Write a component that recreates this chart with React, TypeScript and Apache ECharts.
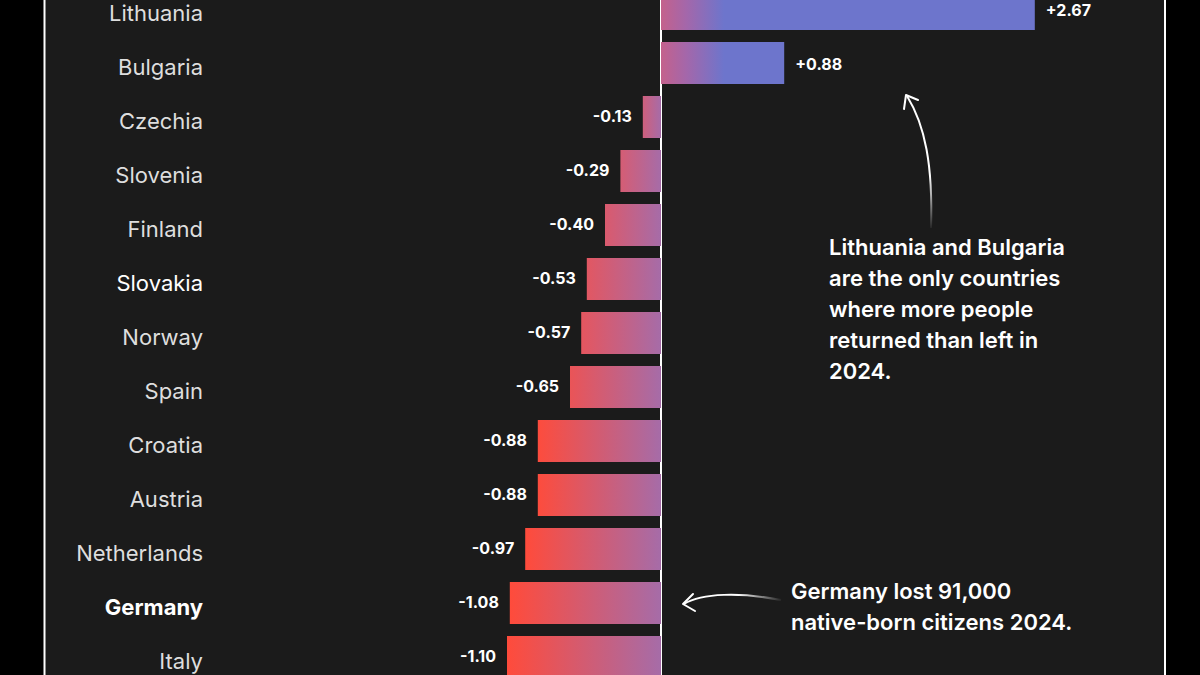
import React, { useEffect, useRef } from "react";
import * as echarts from "echarts";

const countries = [
  "Lithuania", "Bulgaria", "Czechia", "Slovenia", "Finland", "Slovakia", "Norway",
  "Spain", "Croatia", "Austria", "Netherlands", "Germany", "Italy",
];
const values = [2.67, 0.88, -0.13, -0.29, -0.4, -0.53, -0.57, -0.65, -0.88, -0.88, -0.97, -1.08, -1.1];
const boldCountries = ["Germany"];
const semiBoldCountries = ["Slovakia"];
const note1 = [
  "Lithuania and Bulgaria",
  "are the only countries",
  "where more people",
  "returned than left in",
  "2024.",
];
const note2 = ["Germany lost 91,000", "native-born citizens 2024."];

const FONT = "Inter, 'Noto Sans', sans-serif";

function hex(c: string) {
  return [parseInt(c.slice(1, 3), 16), parseInt(c.slice(3, 5), 16), parseInt(c.slice(5, 7), 16)];
}
function mix(a: string, b: string, t: number) {
  const A = hex(a), B = hex(b);
  const r = A.map((v, i) => Math.round(v + (B[i] - v) * t));
  return `rgb(${r[0]},${r[1]},${r[2]})`;
}

function barColor(v: number) {
  if (v >= 0) {
    const o = Math.min(1, 0.45 / v);
    return {
      type: "linear", x: 0, y: 0, x2: 1, y2: 0,
      colorStops: [
        { offset: 0, color: "#c4618c" },
        { offset: o * 0.4, color: "#a467aa" },
        { offset: o, color: "#6d75cc" },
        { offset: 1, color: "#6d75cc" },
      ],
    };
  }
  const t = Math.pow(Math.min(1, Math.max(0, (Math.abs(v) - 0.1) / 0.8)), 1.5);
  return {
    type: "linear", x: 0, y: 0, x2: 1, y2: 0,
    colorStops: [
      { offset: 0, color: mix("#cf5f7c", "#ff4b3b", t) },
      { offset: 1, color: "#a66ca8" },
    ],
  };
}

export default function App() {
  const ref = useRef<HTMLDivElement>(null);
  useEffect(() => {
    const chart = echarts.init(ref.current!, null, { renderer: "svg" });
    const option: any = {
      animation: false,
      backgroundColor: "#000000",
      grid: { left: 213, right: 91, top: -18, height: 702, outerBoundsMode: "none", containLabel: false },
      xAxis: {
        type: "value", min: -3.2, max: 3.2, show: false,
        splitLine: { show: false },
      },
      yAxis: {
        type: "category", inverse: true, data: countries,
        axisTick: { show: false },
        axisLine: { show: true, onZero: true, lineStyle: { color: "#ffffff", width: 2 } },
        axisLabel: {
          margin: 10,
          padding: [8, 0, 0, 0],
          formatter: (v: string) =>
            boldCountries.includes(v) ? `{b|${v}}` : semiBoldCountries.includes(v) ? `{s|${v}}` : `{n|${v}}`,
          rich: {
            n: { fontFamily: FONT, fontSize: 22, color: "#dedede", fontWeight: 400 },
            s: { fontFamily: FONT, fontSize: 22, color: "#ffffff", fontWeight: 400 },
            b: { fontFamily: FONT, fontSize: 22, color: "#ffffff", fontWeight: 700 },
          },
        },
      },
      series: [
        {
          type: "bar",
          barWidth: 42,
          z: 1,
          data: values.map((v) => ({
            value: v,
            itemStyle: { color: barColor(v) },
            label: {
              show: true,
              position: v >= 0 ? "right" : "left",
              distance: 11,
              offset: [0, v >= 0 ? 1 : -1],
              formatter: (v >= 0 ? "+" : "") + v.toFixed(2),
              color: "#ffffff",
              fontFamily: FONT,
              fontSize: 16,
              fontWeight: 700,
            },
          })),
        },
      ],
      graphic: [
        { type: "rect", z: -10, shape: { x: 44, y: 0, width: 1122, height: 675 }, style: { fill: "#1b1b1b" } },
        { type: "line", z: 10, shape: { x1: 44.5, y1: 0, x2: 44.5, y2: 675 }, style: { stroke: "#ffffff", lineWidth: 2 } },
        { type: "line", z: 10, shape: { x1: 1165, y1: 0, x2: 1165, y2: 675 }, style: { stroke: "#ffffff", lineWidth: 2 } },
        {
          type: "text", z: 10, left: 829, top: 231,
          style: {
            text: note1.join("\n"), fill: "#ffffff",
            fontFamily: FONT, fontSize: 22, fontWeight: 600, lineHeight: 31,
          },
        },
        {
          type: "text", z: 10, left: 791, top: 575,
          style: {
            text: note2.join("\n"), fill: "#ffffff",
            fontFamily: FONT, fontSize: 22, fontWeight: 600, lineHeight: 31,
          },
        },
        {
          type: "bezierCurve", z: 10,
          shape: { x1: 931, y1: 228, cpx1: 933, cpy1: 165, cpx2: 925, cpy2: 125, x2: 907, y2: 96 },
          style: {
            fill: "none", lineWidth: 2,
            stroke: {
              type: "linear", x: 0, y: 0, x2: 0, y2: 1,
              colorStops: [
                { offset: 0, color: "#ffffff" },
                { offset: 0.6, color: "#ffffff" },
                { offset: 1, color: "rgba(255,255,255,0.05)" },
              ],
            },
          },
        },
        {
          type: "polyline", z: 10,
          shape: { points: [[904, 109], [906, 95], [918, 100]] },
          style: { fill: "none", stroke: "#ffffff", lineWidth: 2, lineCap: "round", lineJoin: "round" },
        },
        {
          type: "bezierCurve", z: 10,
          shape: { x1: 781, y1: 600, cpx1: 740, cpy1: 592, cpx2: 702, cpy2: 593, x2: 684, y2: 604 },
          style: {
            fill: "none", lineWidth: 2,
            stroke: {
              type: "linear", x: 0, y: 0, x2: 1, y2: 0,
              colorStops: [
                { offset: 0, color: "#ffffff" },
                { offset: 0.55, color: "#ffffff" },
                { offset: 1, color: "rgba(255,255,255,0.05)" },
              ],
            },
          },
        },
        {
          type: "polyline", z: 10,
          shape: { points: [[693, 594], [683, 604], [695, 611]] },
          style: { fill: "none", stroke: "#ffffff", lineWidth: 2, lineCap: "round", lineJoin: "round" },
        },
      ],
    };
    chart.setOption(option);
    return () => chart.dispose();
  }, []);
  return (
    <div
      ref={ref}
      style={{ position: "absolute", left: 0, top: 0, width: 1200, height: 675 }}
    />
  );
}
